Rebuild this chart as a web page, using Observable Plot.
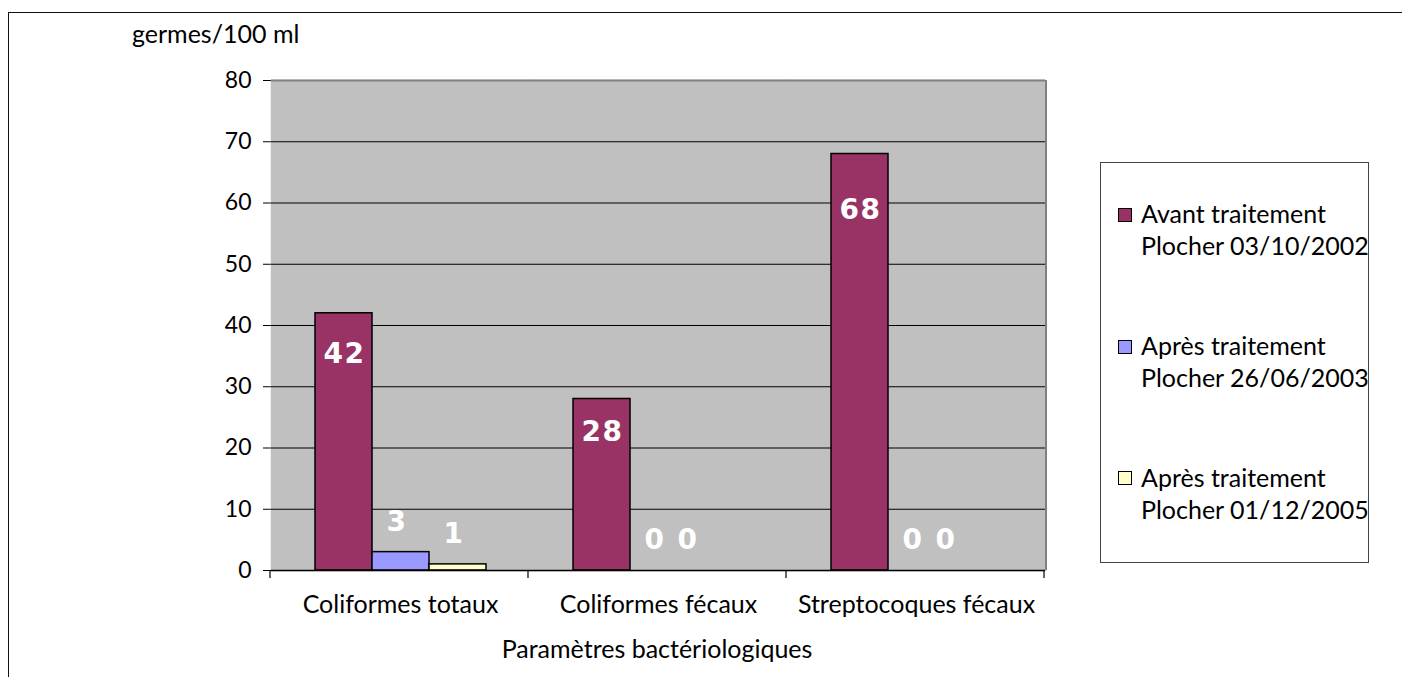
<!DOCTYPE html>
<html>
<head>
<meta charset="utf-8">
<script src="https://cdn.jsdelivr.net/npm/d3@7"></script>
<script src="https://cdn.jsdelivr.net/npm/@observablehq/plot@0.6"></script>
<style>
  html, body { margin: 0; padding: 0; background: #fff; }
  #wrap { position: relative; width: 1402px; height: 677px; overflow: hidden; font-family: Lato, sans-serif; color: #000; }
  #border { position: absolute; left: 8px; top: 12px; width: 1420px; height: 700px; border: 1.5px solid #111; box-sizing: border-box; }
  #chart { position: absolute; left: 0; top: 0; }
  .txt { position: absolute; font-size: 25px; line-height: 32px; white-space: nowrap; }
  #legend { position: absolute; left: 1100px; top: 162px; width: 269px; height: 401px; border: 1px solid #444; box-sizing: border-box; }
  .sw { position: absolute; width: 14px; height: 14px; border: 1.5px solid #000; box-sizing: border-box; }
  #chart g[aria-label^="y-axis"] text { font-size: 23px; }
  #chart g[font-weight="bold"] text { letter-spacing: 1.5px; }
</style>
</head>
<body>
<div id="wrap">
  <div id="border"></div>
  <div id="chart"></div>
</div>
<script>
// ---- data ----
const categories = ["Coliformes totaux", "Coliformes fécaux", "Streptocoques fécaux"];
const seriesNames = ["Avant traitement Plocher 03/10/2002", "Après traitement Plocher 26/06/2003", "Après traitement Plocher 01/12/2005"];
const seriesLines = [["Avant traitement", "Plocher 03/10/2002"], ["Après traitement", "Plocher 26/06/2003"], ["Après traitement", "Plocher 01/12/2005"]];
const avant2002 = [42, 28, 68];
const apres2003 = [3, 0, 0];
const apres2005 = [1, 0, 0];
const seriesColors = ["#993366", "#9999FF", "#FFFFCC"];
const yTicks = [0, 10, 20, 30, 40, 50, 60, 70, 80];
const yTitle = "germes/100 ml";
const xTitle = "Paramètres bactériologiques";

const seriesValues = [avant2002, apres2003, apres2005];
const rows = [];
categories.forEach((c, i) => seriesNames.forEach((s, j) => rows.push({category: c, series: s, si: j, value: seriesValues[j][i]})));

const labelFont = {fontFamily: "DejaVu Sans", fontWeight: "bold", fontSize: 28, fill: "#fff"};

const plot = Plot.plot({
  width: 1402,
  height: 677,
  marginLeft: 270,
  marginRight: 356,
  marginTop: 80,
  marginBottom: 107,
  style: {fontFamily: "Lato", fontSize: "25px", color: "#000", background: "transparent", overflow: "visible"},
  fx: {domain: categories, padding: 0, axis: "bottom", label: null, tickSize: 0, tickPadding: 25},
  x: {domain: seriesNames, paddingInner: 0, paddingOuter: 0.75, axis: null},
  y: {domain: [0, 80], ticks: yTicks, tickSize: 8, tickPadding: 12, label: null, line: true},
  color: {domain: seriesNames, range: seriesColors},
  marks: [
    Plot.frame({fill: "#c0c0c0", stroke: "#c0c0c0", strokeWidth: 1.5}),
    Plot.ruleY(yTicks.filter(d => d > 0 && d < 80), {stroke: "#000", strokeWidth: 1}),
    Plot.ruleY([80], {stroke: "#808080", strokeWidth: 2}),
    Plot.barY(rows, {fx: "category", x: "series", y: "value", fill: "series", stroke: "#000", strokeWidth: 1.5}),
    Plot.ruleY([0], {stroke: "#000", strokeWidth: 1.5}),
    // labels of the first series (inside the bars)
    Plot.text(rows.filter(d => d.si === 0), {fx: "category", x: "series", y: d => d.value * 0.9075 - 2.8, text: d => String(d.value), dx: 0.5, ...labelFont}),
    // labels of the other series, non-zero
    Plot.text(rows.filter(d => d.si > 0 && d.value > 0), {fx: "category", x: "series", y: "value", text: d => String(d.value), dy: -30, dx: -4, ...labelFont}),
    // zero labels
    Plot.text(rows.filter(d => d.si === 1 && d.value === 0), {fx: "category", x: "series", y: "value", text: d => String(d.value), dy: -30, dx: -4, ...labelFont}),
    Plot.text(rows.filter(d => d.si === 2 && d.value === 0), {fx: "category", x: "series", y: "value", text: d => String(d.value), dy: -30, dx: -28, ...labelFont})
  ]
});
document.getElementById("chart").appendChild(plot);

// category boundary ticks and right border, from the library's scales
const fxs = plot.scale("fx");
const ys = plot.scale("y");
const svg = d3.select(plot);
const y0 = ys.range[0], y1 = ys.range[1];
const step = fxs.step != null ? fxs.step : (fxs.range[1] - fxs.range[0]) / categories.length;
const g = svg.append("g");
g.append("line").attr("x1", fxs.range[1]).attr("x2", fxs.range[1]).attr("y1", y1).attr("y2", y0)
  .attr("stroke", "#808080").attr("stroke-width", 2);
for (let i = 0; i <= categories.length; i++) {
  const x = fxs.range[0] + i * step;
  g.append("line").attr("x1", x).attr("x2", x).attr("y1", y0).attr("y2", y0 + 8)
    .attr("stroke", "#000").attr("stroke-width", 1.2);
}

// titles
const wrap = document.getElementById("wrap");
function addText(str, left, top, extra) {
  const d = document.createElement("div");
  d.className = "txt";
  d.textContent = str;
  d.style.left = left + "px";
  d.style.top = top + "px";
  if (extra) Object.assign(d.style, extra);
  wrap.appendChild(d);
  return d;
}
addText(yTitle, 132, 16.6);
addText(xTitle, 0, 632, {width: "1314px", textAlign: "center"});

// legend
const legend = document.createElement("div");
legend.id = "legend";
wrap.appendChild(legend);
seriesNames.forEach((s, i) => {
  const top = 196.3 + i * 131.8;
  const sw = document.createElement("div");
  sw.className = "sw";
  sw.style.background = seriesColors[i];
  sw.style.left = (1117 - 1100) + "px";
  sw.style.top = (top + 10.5 - 162) + "px";
  legend.appendChild(sw);
  seriesLines[i].forEach((ln, k) => {
    const d = document.createElement("div");
    d.className = "txt";
    d.textContent = ln;
    d.style.left = (1140 - 1100) + "px";
    d.style.top = (top - 162 + k * 32) + "px";
    legend.appendChild(d);
  });
});
</script>
</body>
</html>
